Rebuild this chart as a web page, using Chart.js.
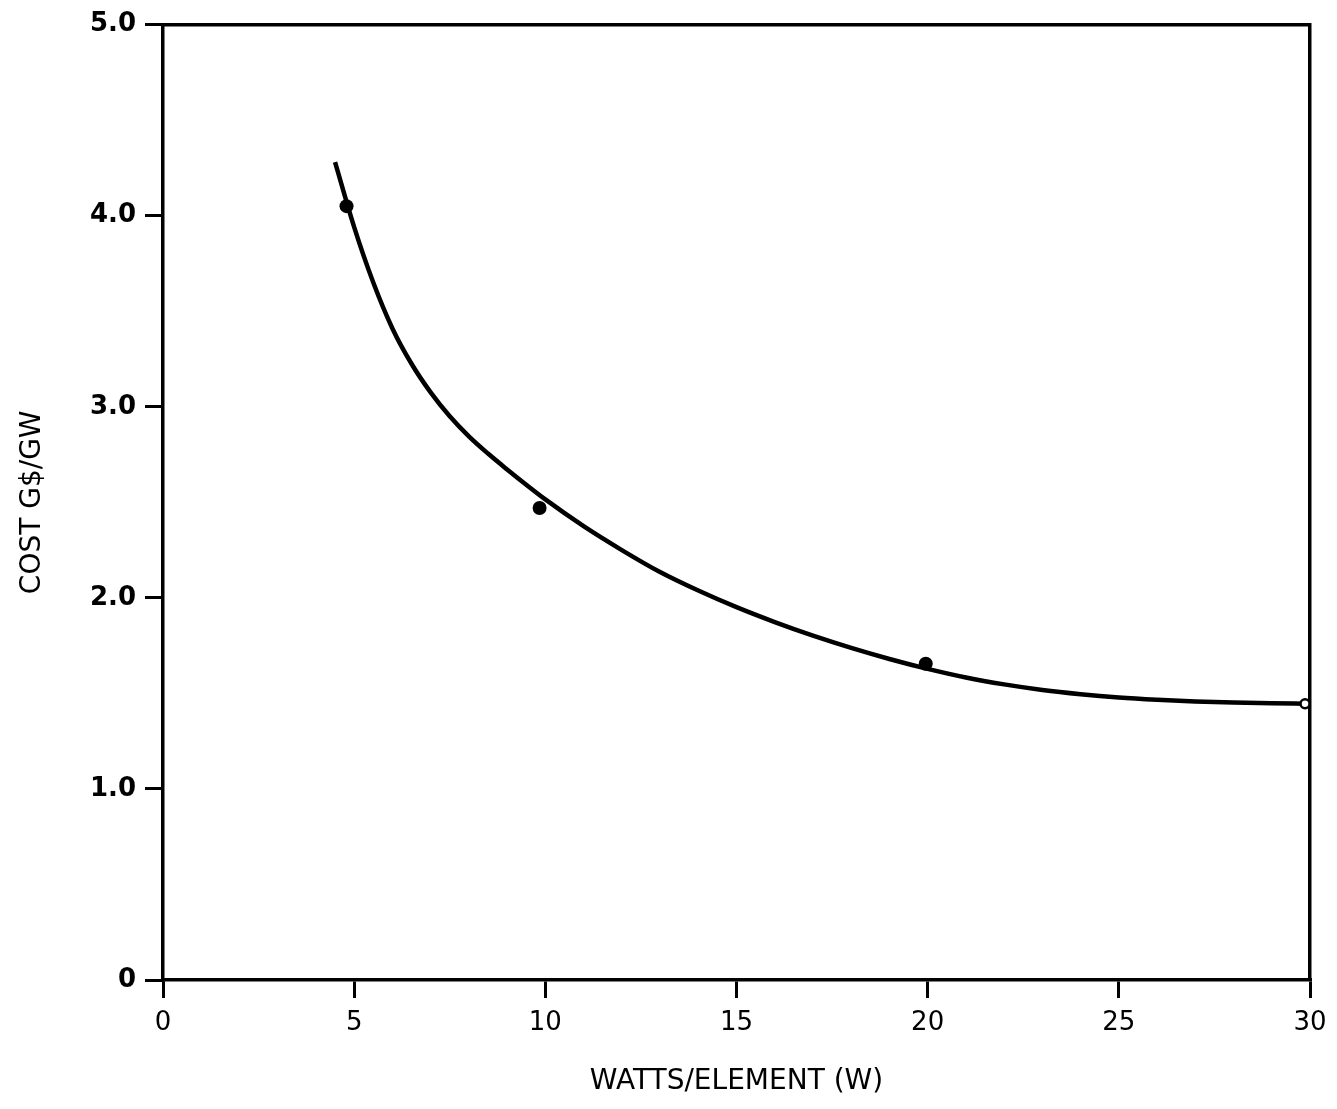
<!DOCTYPE html>
<html>
<head>
<meta charset="utf-8">
<title>Cost vs. Watts per Element</title>
<script src="https://cdn.jsdelivr.net/npm/chart.js@4/dist/chart.umd.min.js"></script>
<style>
  html, body { margin: 0; padding: 0; background: #ffffff; }
  canvas { display: block; }
</style>
</head>
<body>
<canvas id="chart" width="1337" height="1109"></canvas>
<script>
// Fitted cost curve (W per element, G$/GW)
const curveWatts = [4.5, 5.0, 5.5, 6.0, 6.5, 7.0, 7.5, 8.0, 8.5, 9.0, 9.5, 10, 11, 12, 13, 14, 15, 16, 17, 18, 19, 20, 21, 22, 23, 24, 25, 26, 27, 28, 29, 29.9];
const curveCost  = [4.28, 3.94, 3.65, 3.41, 3.225, 3.075, 2.95, 2.845, 2.755, 2.672, 2.592, 2.515, 2.375, 2.25, 2.135, 2.038, 1.951, 1.873, 1.802, 1.738, 1.68, 1.628, 1.583, 1.547, 1.518, 1.496, 1.479, 1.467, 1.458, 1.452, 1.448, 1.446];

// Computed design points (filled dots)
const pointWatts = [4.8, 9.85, 19.95];
const pointCost  = [4.05, 2.47, 1.655];

// Reference design point (open circle)
const openWatts = [29.87];
const openCost  = [1.446];

// Axis tick values
const xTicks = [0, 5, 10, 15, 20, 25, 30];
const yTicks = [0, 1, 2, 3, 4, 5];

const toXY = (xs, ys) => xs.map((x, i) => ({ x: x, y: ys[i] }));

const INK = '#000000';
const FONT = "'DejaVu Sans', 'Liberation Sans', sans-serif";

const axisCommon = {
  type: 'linear',
  grid: {
    drawOnChartArea: false,
    drawTicks: true,
    tickLength: 18,
    tickWidth: 3,
    tickColor: INK,
    color: INK,
    lineWidth: 3
  },
  border: { display: true, color: INK, width: 3.5 }
};

new Chart(document.getElementById('chart'), {
  type: 'scatter',
  data: {
    datasets: [
      {
        data: toXY(curveWatts, curveCost),
        showLine: true,
        borderColor: INK,
        borderWidth: 4.5,
        pointRadius: 0,
        cubicInterpolationMode: 'monotone',
        clip: false,
        order: 3
      },
      {
        data: toXY(pointWatts, pointCost),
        showLine: false,
        pointRadius: 7,
        pointBackgroundColor: INK,
        pointBorderColor: INK,
        pointBorderWidth: 0,
        clip: false,
        order: 2
      },
      {
        data: toXY(openWatts, openCost),
        showLine: false,
        pointRadius: 4.5,
        pointBackgroundColor: '#ffffff',
        pointBorderColor: INK,
        pointBorderWidth: 2.5,
        clip: false,
        order: 1
      }
    ]
  },
  options: {
    responsive: false,
    animation: false,
    devicePixelRatio: 1,
    layout: { padding: { left: 0, top: 22, right: 27, bottom: 0 } },
    plugins: {
      legend: { display: false },
      tooltip: { enabled: false },
      title: { display: false }
    },
    scales: {
      x: Object.assign({}, axisCommon, {
        position: 'bottom',
        min: 0,
        max: 30,
        afterBuildTicks: (scale) => { scale.ticks = xTicks.map(v => ({ value: v })); },
        afterFit: (scale) => { scale.height = 129; },
        ticks: {
          color: INK,
          padding: 10,
          autoSkip: false,
          maxRotation: 0,
          font: { family: FONT, size: 26 },
          callback: (v) => String(v)
        },
        title: {
          display: true,
          text: 'WATTS/ELEMENT (W)',
          color: INK,
          font: { family: FONT, size: 28 },
          padding: { top: 0, bottom: 10 }
        }
      }),
      y: Object.assign({}, axisCommon, {
        position: 'left',
        min: 0,
        max: 5,
        afterBuildTicks: (scale) => { scale.ticks = yTicks.map(v => ({ value: v })); },
        afterFit: (scale) => { scale.width = 163; },
        ticks: {
          color: INK,
          padding: 9,
          autoSkip: false,
          font: { family: FONT, size: 26, weight: 'bold' },
          callback: (v) => (v === 0 ? '0' : v.toFixed(1))
        },
        title: {
          display: true,
          text: 'COST G$/GW',
          color: INK,
          font: { family: FONT, size: 28 },
          padding: { top: 16, bottom: 0 }
        }
      }),
      xTop: {
        type: 'linear',
        position: 'top',
        min: 0,
        max: 30,
        afterFit: (scale) => { scale.height = 0; },
        grid: { display: false },
        ticks: { display: false },
        border: { display: true, color: INK, width: 3.5 }
      },
      yRight: {
        type: 'linear',
        position: 'right',
        min: 0,
        max: 5,
        afterFit: (scale) => { scale.width = 0; },
        grid: { display: false },
        ticks: { display: false },
        border: { display: true, color: INK, width: 3.5 }
      }
    }
  }
});
</script>
</body>
</html>
